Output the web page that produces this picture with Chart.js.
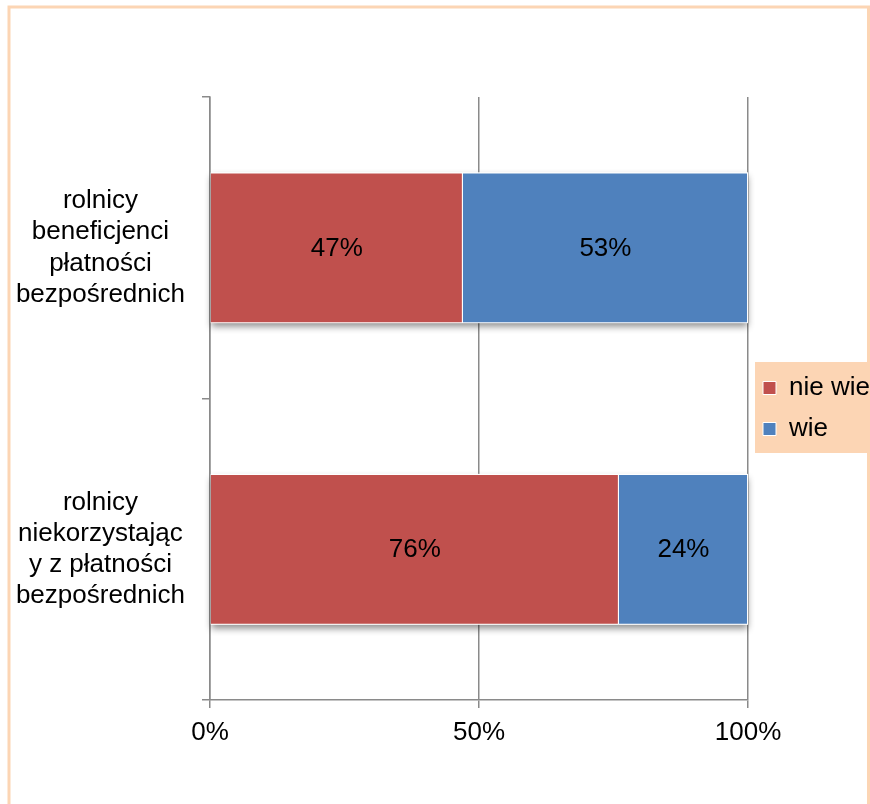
<!DOCTYPE html>
<html>
<head>
<meta charset="utf-8">
<script src="https://cdn.jsdelivr.net/npm/chart.js@4.4.1/dist/chart.umd.min.js"></script>
<style>
  html, body { margin: 0; padding: 0; background: #fff; }
  canvas { display: block; }
</style>
</head>
<body>
<canvas id="chart" width="870" height="804"></canvas>
<script>
const categories = [
  ["rolnicy", "beneficjenci", "płatności", "bezpośrednich"],
  ["rolnicy", "niekorzystając", "y z płatności", "bezpośrednich"]
];
const seriesNames = ["nie wie", "wie"];
const nieWie = [47, 76];
const wie = [53, 24];
const xTicks = [0, 50, 100];

const FONT = "'Liberation Sans', Arial, sans-serif";
const GRID = "#8a8a8a";
const PEACH = "#fcd5b4";

// peach frame round the picture and the legend background
const backdrop = {
  id: "backdrop",
  beforeDraw(chart) {
    const { ctx, legend } = chart;
    ctx.save();
    ctx.strokeStyle = PEACH;
    ctx.lineWidth = 3;
    ctx.strokeRect(9, 7, 859.5, 900);
    const boxes = legend.legendHitBoxes;
    if (boxes && boxes.length) {
      const first = boxes[0];
      const last = boxes[boxes.length - 1];
      const top = first.top - 13;
      ctx.fillStyle = PEACH;
      ctx.fillRect(first.left - 8, top, chart.width, last.top + last.height + 11 - top);
    }
    ctx.restore();
  }
};

// soft shadow under each stacked bar, then the value labels
const barDecor = {
  id: "barDecor",
  beforeDatasetsDraw(chart) {
    const ctx = chart.ctx;
    const metas = chart.data.datasets.map((d, i) => chart.getDatasetMeta(i));
    ctx.save();
    ctx.shadowColor = "rgba(0,0,0,0.45)";
    ctx.shadowBlur = 7;
    ctx.shadowOffsetY = 4;
    ctx.fillStyle = "#fff";
    categories.forEach((c, j) => {
      const bars = metas.map(m => m.data[j]);
      const left = Math.min(...bars.map(b => Math.min(b.base, b.x)));
      const right = Math.max(...bars.map(b => Math.max(b.base, b.x)));
      const h = bars[0].height;
      ctx.fillRect(left, bars[0].y - h / 2, right - left, h);
    });
    ctx.restore();
  },
  afterDatasetsDraw(chart) {
    const ctx = chart.ctx;
    ctx.save();
    ctx.font = "26px " + FONT;
    ctx.fillStyle = "#000";
    ctx.textAlign = "center";
    ctx.textBaseline = "middle";
    chart.data.datasets.forEach((ds, i) => {
      chart.getDatasetMeta(i).data.forEach((bar, j) => {
        const p = bar.getCenterPoint();
        ctx.fillText(ds.data[j] + "%", p.x, p.y + 1);
      });
    });
    ctx.restore();
  }
};

new Chart(document.getElementById("chart"), {
  type: "bar",
  data: {
    labels: categories,
    datasets: [
      { label: seriesNames[0], data: nieWie, backgroundColor: "#c0504d", borderColor: "#fff", borderWidth: 1,
        categoryPercentage: 1, barPercentage: 0.5 },
      { label: seriesNames[1], data: wie, backgroundColor: "#4f81bd", borderColor: "#fff", borderWidth: 1,
        categoryPercentage: 1, barPercentage: 0.5 }
    ]
  },
  options: {
    indexAxis: "y",
    responsive: false,
    animation: false,
    layout: { padding: { top: 97, bottom: 54, left: 14, right: 0 } },
    scales: {
      x: {
        stacked: true,
        min: 0,
        max: 100,
        afterBuildTicks: s => { s.ticks = xTicks.map(v => ({ value: v })); },
        ticks: { callback: v => v + "%", color: "#000", font: { family: FONT, size: 26 }, padding: 9, maxRotation: 0 },
        grid: { color: GRID, lineWidth: 1.5, tickLength: 8 },
        border: { color: GRID, width: 1.5 },
        afterFit: s => { s.height = 50; }
      },
      y: {
        stacked: true,
        ticks: { color: "#000", font: { family: FONT, size: 26 }, crossAlign: "center", padding: 17 },
        grid: { drawOnChartArea: false, color: GRID, lineWidth: 1.5, tickLength: 8 },
        border: { color: GRID, width: 1.5 },
        afterFit: s => { s.width = 196; }
      }
    },
    plugins: {
      legend: {
        position: "right",
        fullSize: false,
        maxWidth: 122,
        title: { display: true, text: "", font: { size: 10 }, padding: 4 },
        labels: { boxWidth: 13, boxHeight: 13, padding: 15, color: "#000", font: { family: FONT, size: 26 } }
      },
      tooltip: { enabled: false }
    }
  },
  plugins: [backdrop, barDecor]
});
</script>
</body>
</html>
